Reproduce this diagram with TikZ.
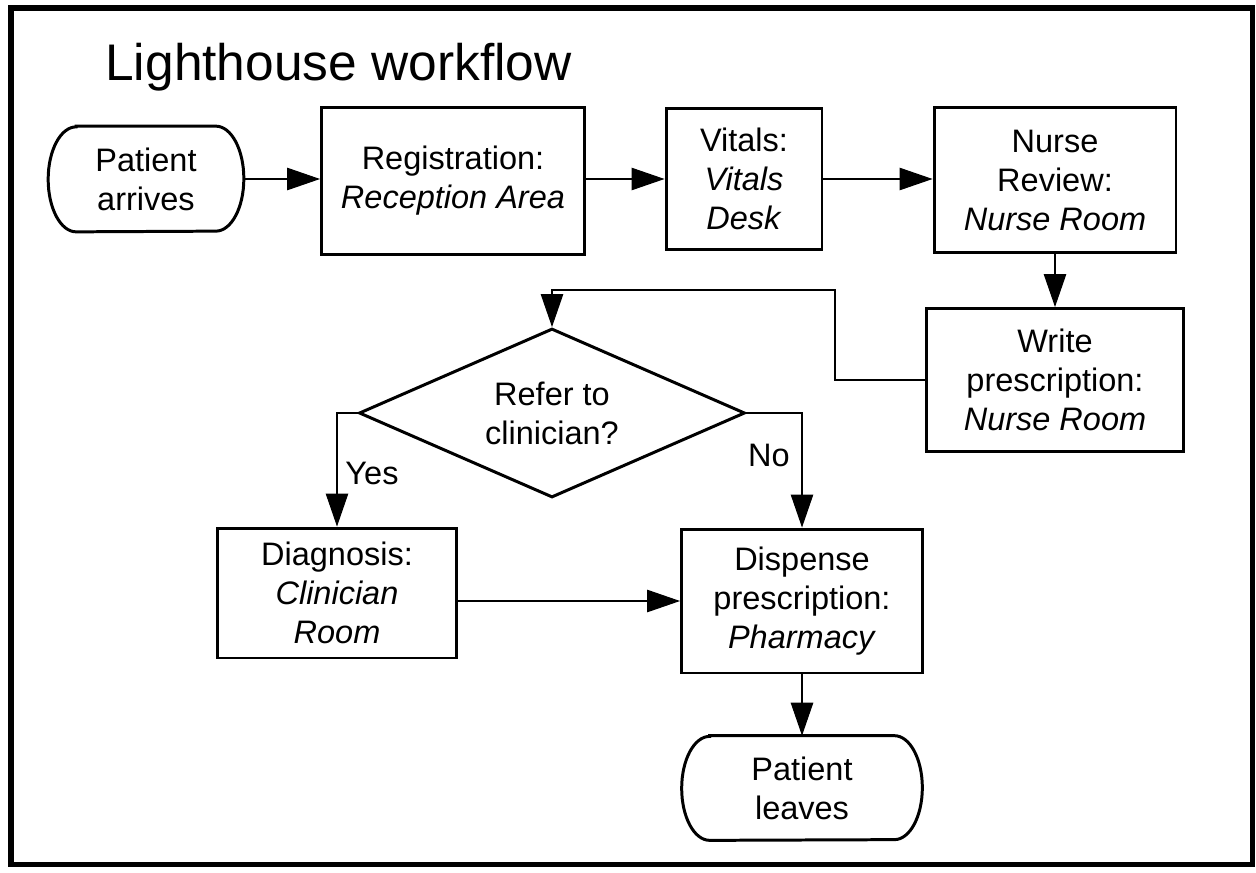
\documentclass[tikz,border=0pt]{standalone}
\usepackage{fontspec}
\setmainfont{Liberation Sans}
\usetikzlibrary{arrows.meta,shapes.geometric}
\newcommand{\flowfont}{\fontsize{18.5}{22.2}\selectfont}
\newcommand{\headfont}{\fontsize{29.3}{35}\selectfont}
\tikzset{
  frame/.style={draw=black, line width=2.85pt},
  box/.style={draw=black, line width=1.7pt, align=center, font=\flowfont, inner sep=0pt},
  term/.style={align=center, font=\flowfont, inner sep=0pt},
  termline/.style={draw=black, line width=1.7pt},
  decide/.style={diamond, draw=black, line width=1.7pt, align=center,
    font=\flowfont, inner sep=0pt, aspect=2.28},
  flow/.style={draw=black, line width=0.6pt, -{Triangle[length=0.66cm,width=0.45cm]}},
  lbl/.style={font=\flowfont},
  head/.style={font=\headfont, inner sep=0pt}
}

\begin{document}
\begin{tikzpicture}[x=0.02cm, y=-0.02cm]
\useasboundingbox (0,0) rectangle (1256,872);
% outer frame
\draw[frame] (11,8) rectangle (1252,864);
\node[head, anchor=base west] (title) at (105,80) {Lighthouse workflow};

% top row
\node[term, minimum width=3.9cm, minimum height=2.1cm] (arrives) at (146,179) {Patient\\arrives};
\draw[termline] ([xshift=0.56cm]arrives.north west) -- ([xshift=-0.56cm]arrives.north east)
  arc[start angle=90, end angle=-90, x radius=0.56cm, y radius=1.05cm]
  -- ([xshift=0.56cm]arrives.south west)
  arc[start angle=270, end angle=90, x radius=0.56cm, y radius=1.05cm] -- cycle;
\node[box, minimum width=5.26cm, minimum height=2.96cm] (reg) at (453,181) {Registration:\\\textit{Reception Area}};
\node[box, minimum width=3.12cm, minimum height=2.84cm] (vitals) at (744,179) {Vitals:\\\textit{Vitals}\\\textit{Desk}};
\node[box, minimum width=4.84cm, minimum height=2.9cm] (nurse) at (1055,180) {Nurse\\Review:\\\textit{Nurse Room}};
\node[box, minimum width=5.14cm, minimum height=2.86cm] (write) at (1055,380) {Write\\prescription:\\\textit{Nurse Room}};

% decision
\node[decide, minimum width=7.72cm, minimum height=3.38cm] (refer) at (552,413) {Refer to\\clinician?};
\coordinate (bend) at (835,290);

% bottom row
\node[box, minimum width=4.8cm, minimum height=2.6cm] (diag) at (337,593) {Diagnosis:\\\textit{Clinician}\\\textit{Room}};
\node[box, minimum width=4.82cm, minimum height=2.88cm] (disp) at (802,601) {Dispense\\prescription:\\\textit{Pharmacy}};
\node[term, minimum width=4.8cm, minimum height=2.08cm] (leaves) at (802,788) {Patient\\leaves};
\draw[termline] ([xshift=0.56cm]leaves.north west) -- ([xshift=-0.56cm]leaves.north east)
  arc[start angle=90, end angle=-90, x radius=0.56cm, y radius=1.04cm]
  -- ([xshift=0.56cm]leaves.south west)
  arc[start angle=270, end angle=90, x radius=0.56cm, y radius=1.04cm] -- cycle;

% connectors
\draw[flow] (arrives.east) -- (arrives.east -| reg.west);
\draw[flow] (reg.east |- vitals.west) -- (vitals.west);
\draw[flow] (vitals.east) -- (vitals.east -| nurse.west);
\draw[flow] (nurse.south) -- (write.north);
\draw[flow] (write.west) -| (bend) -| (refer.north);
\draw[flow] (refer.west) -| (diag.north);
\draw[flow] (refer.east) -| (disp.north);
\draw[flow] (diag.east |- disp.west) -- (disp.west);
\draw[flow] (disp.south) -- (leaves.north);

\node[lbl] (yes) at (372,473) {Yes};
\node[lbl] (no) at (769,455) {No};
\end{tikzpicture}
\end{document}
